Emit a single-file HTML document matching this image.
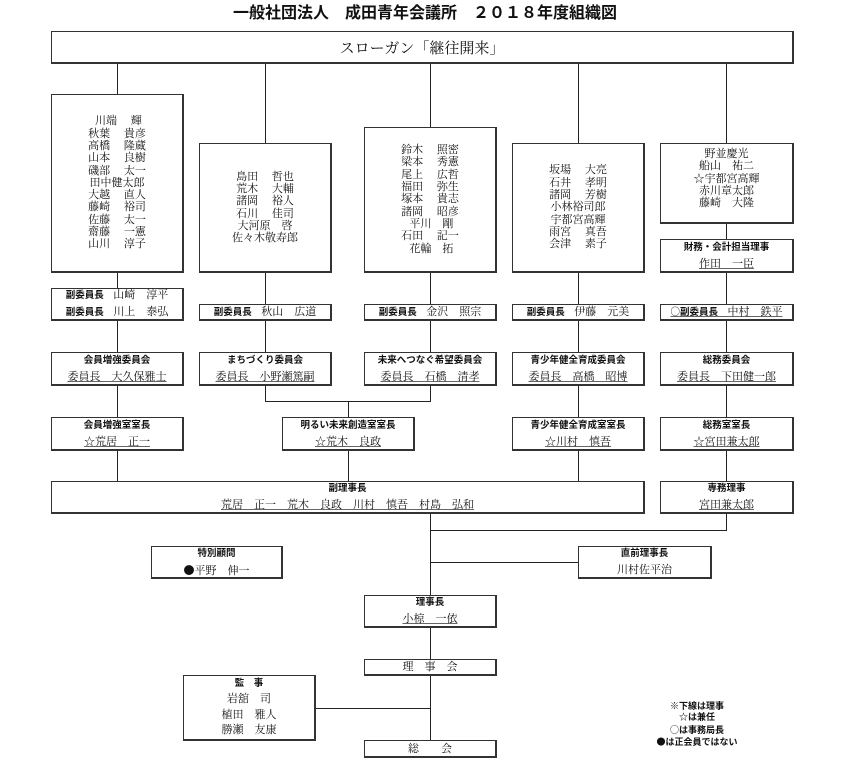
<!DOCTYPE html>
<html><head><meta charset="utf-8"><style>
body{margin:0;background:#fff;}
#c{position:relative;width:850px;height:765px;overflow:hidden;font-family:"Liberation Serif","Noto Serif CJK JP",serif;color:#111;}
.b{position:absolute;box-sizing:border-box;border:1px solid #333;border-right-width:2px;border-bottom-width:2px;background:#fff;display:flex;flex-direction:column;justify-content:center;align-items:center;text-align:center;}
.n{font-size:11px;line-height:12.3px;white-space:pre;}
.h{font-family:"Liberation Sans","Noto Sans CJK JP",sans-serif;font-weight:bold;font-size:9.5px;line-height:16px;white-space:pre;}
.t{font-size:11px;line-height:16px;white-space:pre;}
.u{text-decoration:underline;text-decoration-color:#666;}
.v{position:absolute;width:1px;background:#222;}
.hl{position:absolute;height:1px;background:#222;}
.j{font-family:"Noto Sans CJK JP",sans-serif;}
.nm{font-weight:normal;font-family:"Liberation Serif","Noto Serif CJK JP",serif;font-size:11px;}
</style></head><body><div id="c">
<div style="position:absolute;left:0;width:850px;top:4px;text-align:center;font-family:'Liberation Sans','Noto Sans CJK JP',sans-serif;font-weight:bold;font-size:16px;line-height:20px;">一般社団法人　成田青年会議所　２０１８年度組織図</div>

<div class="v" style="left:117px;top:63px;height:418px"></div>
<div class="v" style="left:265px;top:63px;height:338px"></div>
<div class="v" style="left:430px;top:63px;height:338px"></div>
<div class="v" style="left:578px;top:63px;height:418px"></div>
<div class="v" style="left:726px;top:63px;height:467px"></div>
<div class="hl" style="left:265px;top:401px;width:166px"></div>
<div class="v" style="left:348px;top:401px;height:80px"></div>
<div class="v" style="left:430px;top:513px;height:228px"></div>
<div class="hl" style="left:430px;top:530px;width:297px"></div>
<div class="hl" style="left:430px;top:562px;width:148px"></div>
<div class="hl" style="left:315px;top:708px;width:115px"></div>

<div class="b" style="left:51px;top:31px;width:743px;height:33px"><div style="font-size:15px;">スローガン「継往開来」</div></div>

<div class="b" style="left:51px;top:94px;width:133px;height:179px"><div class="n"> 川端　 輝
秋葉　 貴彦
高橋　 隆蔵
山本　 良樹
磯部　 太一
田中健太郎
大越　 直人
藤崎　 裕司
佐藤　 太一
齋藤　 一憲
山川　 淳子</div></div>
<div class="b" style="left:199px;top:143px;width:133px;height:130px"><div class="n">島田　 哲也
荒木　 大輔
諸岡　 裕人
石川　 佳司
大河原　啓
佐々木敬寿郎</div></div>
<div class="b" style="left:364px;top:127px;width:133px;height:146px"><div class="n">鈴木　 照密
梁本　 秀憲
尾上　 広哲
福田　 弥生
塚本　 貴志
諸岡　 昭彦
 平川　剛
石田　 記一
 花輪　拓</div></div>
<div class="b" style="left:512px;top:143px;width:133px;height:130px"><div class="n">坂場　 大亮
石井　 孝明
諸岡　 芳樹
小林裕司郎
宇都宮高輝
雨宮　 真吾
会津　 素子</div></div>
<div class="b" style="left:660px;top:143px;width:134px;height:81px;justify-content:flex-start;padding-top:4px"><div class="n">野並慶光
船山　祐二
☆宇都宮高輝
赤川章太郎
藤崎　大隆</div></div>
<div class="b" style="left:660px;top:239px;width:134px;height:34px"><div class="h">財務・会計担当理事</div><div class="t u">作田　一臣</div></div>

<div class="b" style="left:51px;top:288px;width:133px;height:33px"><div class="h">副委員長　<span class="nm">山崎　淳平</span>
副委員長　<span class="nm">川上　泰弘</span></div></div>
<div class="b" style="left:199px;top:304px;width:133px;height:17px"><div class="h">副委員長　<span class="nm">秋山　広道</span></div></div>
<div class="b" style="left:364px;top:304px;width:133px;height:17px"><div class="h">副委員長　<span class="nm">金沢　照宗</span></div></div>
<div class="b" style="left:512px;top:304px;width:133px;height:17px"><div class="h">副委員長　<span class="nm">伊藤　元美</span></div></div>
<div class="b" style="left:660px;top:304px;width:134px;height:17px"><div class="h u"><span class="j" style="font-weight:normal">○</span>副委員長　<span class="nm">中村　鉄平</span></div></div>

<div class="b" style="left:51px;top:352px;width:133px;height:34px"><div class="h">会員増強委員会</div><div class="t u">委員長　大久保雅士</div></div>
<div class="b" style="left:199px;top:352px;width:133px;height:34px"><div class="h">まちづくり委員会</div><div class="t u">委員長　小野瀬篤嗣</div></div>
<div class="b" style="left:364px;top:352px;width:133px;height:34px"><div class="h">未来へつなぐ希望委員会</div><div class="t u">委員長　石橋　清孝</div></div>
<div class="b" style="left:512px;top:352px;width:133px;height:34px"><div class="h">青少年健全育成委員会</div><div class="t u">委員長　高橋　昭博</div></div>
<div class="b" style="left:660px;top:352px;width:134px;height:34px"><div class="h">総務委員会</div><div class="t u">委員長　下田健一郎</div></div>

<div class="b" style="left:51px;top:417px;width:133px;height:34px"><div class="h">会員増強室室長</div><div class="t u">☆荒居　正一</div></div>
<div class="b" style="left:282px;top:417px;width:133px;height:34px"><div class="h">明るい未来創造室室長</div><div class="t u">☆荒木　良政</div></div>
<div class="b" style="left:512px;top:417px;width:133px;height:34px"><div class="h">青少年健全育成室室長</div><div class="t u">☆川村　慎吾</div></div>
<div class="b" style="left:660px;top:417px;width:134px;height:34px"><div class="h">総務室室長</div><div class="t u">☆宮田兼太郎</div></div>

<div class="b" style="left:51px;top:481px;width:594px;height:33px"><div class="h">副理事長</div><div class="t u">荒居　正一　荒木　良政　川村　慎吾　村島　弘和</div></div>
<div class="b" style="left:660px;top:481px;width:134px;height:33px"><div class="h">専務理事</div><div class="t u">宮田兼太郎</div></div>

<div class="b" style="left:151px;top:546px;width:132px;height:33px"><div class="h">特別顧問</div><div class="t"><span class="j">●</span>平野　伸一</div></div>
<div class="b" style="left:578px;top:546px;width:134px;height:33px"><div class="h">直前理事長</div><div class="t">川村佐平治</div></div>
<div class="b" style="left:364px;top:595px;width:133px;height:33px"><div class="h">理事長</div><div class="t u">小椋　一依</div></div>
<div class="b" style="left:364px;top:659px;width:133px;height:17px"><div class="t">理　事　会</div></div>
<div class="b" style="left:183px;top:675px;width:133px;height:66px"><div class="h">監　事</div><div class="t" style="line-height:15.5px">岩舘　司
植田　雅人
勝瀬　友康</div></div>
<div class="b" style="left:364px;top:740px;width:133px;height:18px"><div class="t">総　　会</div></div>

<div style="position:absolute;left:620px;width:154px;top:701px;text-align:center;font-family:'Liberation Sans','Noto Sans CJK JP',sans-serif;font-weight:bold;font-size:9px;line-height:11.3px;white-space:pre;">※下線は理事
☆は兼任
<span class="j" style="font-weight:normal">○</span>は事務局長
<span class="j">●</span>は正会員ではない</div>
</div></body></html>
